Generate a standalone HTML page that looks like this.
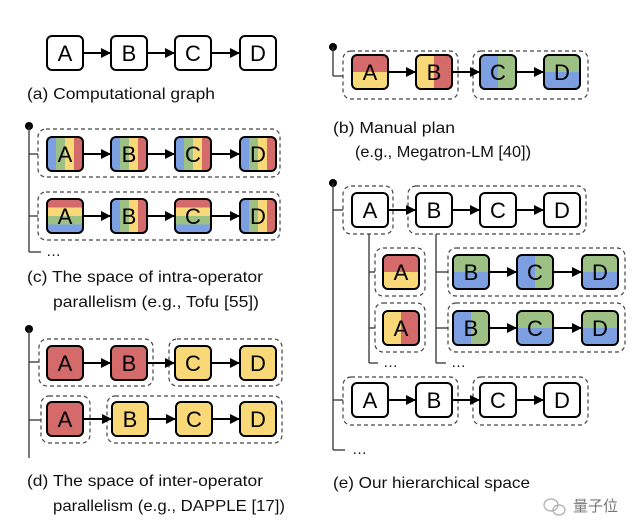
<!DOCTYPE html>
<html><head><meta charset="utf-8"><style>
html,body{margin:0;padding:0;background:#fff;}
svg{display:block;}
text{font-family:"Liberation Sans","Noto Sans CJK SC",sans-serif;}
</style></head><body>
<svg id="s" width="638" height="532" viewBox="0 0 638 532" xmlns="http://www.w3.org/2000/svg">
<defs><marker id="ar" markerWidth="10" markerHeight="10" refX="9" refY="5" orient="auto" markerUnits="userSpaceOnUse"><path d="M0,0 L10,5 L0,10 z" fill="#000"/></marker></defs>
<g id="g"></g>
<g font-size="16" fill="#111">
<text x="27" y="99" textLength="188" lengthAdjust="spacingAndGlyphs">(a) Computational graph</text>
<text x="333" y="133" textLength="122" lengthAdjust="spacingAndGlyphs">(b) Manual plan</text>
<text x="355" y="157" textLength="176" lengthAdjust="spacingAndGlyphs">(e.g., Megatron-LM [40])</text>
<text x="27" y="282" textLength="236" lengthAdjust="spacingAndGlyphs">(c) The space of intra-operator</text>
<text x="53" y="307" textLength="206" lengthAdjust="spacingAndGlyphs">parallelism (e.g., Tofu [55])</text>
<text x="27" y="486" textLength="236" lengthAdjust="spacingAndGlyphs">(d) The space of inter-operator</text>
<text x="53" y="511" textLength="232" lengthAdjust="spacingAndGlyphs">parallelism (e.g., DAPPLE [17])</text>
<text x="333" y="488" textLength="197" lengthAdjust="spacingAndGlyphs">(e) Our hierarchical space</text>
<text x="46" y="256" font-size="15">…</text>
<text x="383" y="367" font-size="15">…</text>
<text x="451" y="367" font-size="15">…</text>
<text x="352" y="454" font-size="15">…</text>
<text x="573" y="511" font-size="15" fill="#777">量子位</text>
</g>
<g fill="none" stroke="#aaa" stroke-width="1.2"><ellipse cx="551" cy="505" rx="7" ry="6"/><ellipse cx="559" cy="510" rx="6" ry="5"/></g>
</svg>
<script>
var R='#d46a6a',Y='#f9d878',G='#9dc184',B='#7b9fe0',W='#fff';
var g=document.getElementById('g'),out='',n=0;
function line(x1,y1,x2,y2,w){out+='<line x1="'+x1+'" y1="'+y1+'" x2="'+x2+'" y2="'+y2+'" stroke="#333" stroke-width="'+(w||1.3)+'"/>';}
function arrow(x1,x2,y){out+='<line x1="'+x1+'" y1="'+y+'" x2="'+x2+'" y2="'+y+'" stroke="#000" stroke-width="2" marker-end="url(#ar)"/>';}
function dash(x1,y1,x2,y2){out+='<rect x="'+x1+'" y="'+y1+'" width="'+(x2-x1)+'" height="'+(y2-y1)+'" rx="8" fill="none" stroke="#444" stroke-width="1.2" stroke-dasharray="4,3"/>';}
function dot(x,y){out+='<circle cx="'+x+'" cy="'+y+'" r="4" fill="#000"/>';}
function box(x,y,lab,type,cols){var w=36,h=34;n++;
 out+='<clipPath id="c'+n+'"><rect x="'+x+'" y="'+y+'" width="'+w+'" height="'+h+'" rx="5"/></clipPath><g clip-path="url(#c'+n+')">';
 cols=cols||[W];var k=cols.length;
 for(var i=0;i<k;i++){ if(type=='h') out+='<rect x="'+x+'" y="'+(y+h*i/k)+'" width="'+w+'" height="'+(h/k+0.5)+'" fill="'+cols[i]+'"/>';
  else out+='<rect x="'+(x+w*i/k)+'" y="'+y+'" width="'+(w/k+0.5)+'" height="'+h+'" fill="'+cols[i]+'"/>';}
 out+='</g><rect x="'+x+'" y="'+y+'" width="'+w+'" height="'+h+'" rx="5" fill="none" stroke="#000" stroke-width="2"/>';
 out+='<text x="'+(x+w/2)+'" y="'+(y+h/2+8)+'" text-anchor="middle" font-size="22" fill="#000">'+lab+'</text>';}
function row(xs,y,specs){var L='ABCD';var off=4-xs.length;
 for(var i=0;i<xs.length-1;i++) arrow(xs[i]+36,xs[i+1]-1,y+17);
 for(var i=0;i<xs.length;i++) box(xs[i],y,L[i+off],specs[i][0],specs[i][1]);}
var X=[47,111,175,240];
row(X,36,[['v'],['v'],['v'],['v']]);
dot(333,47);line(333,47,333,76);line(333,76,343,76);
dash(343,51,458,99);dash(473,51,588,99);
row([352,416,480,544],55,[['h',[R,Y]],['v',[Y,R]],['v',[B,G]],['h',[G,B]]]);
dot(29,126);line(29,126,29,252);line(29,252,41,252);
line(29,154,38,154);line(29,216,38,216);
dash(38,129,280,177);dash(38,192,280,240);
var V=[B,G,Y,R],H=[R,Y,G,B];
row(X,137,[['v',V],['v',V],['v',V],['v',V]]);
row(X,199,[['h',H],['v',V],['h',H],['v',V]]);
dot(29,329);line(29,329,29,458);
line(29,362,39,362);line(29,420,41,420);
dash(39,339,153,386);dash(169,339,282,386);
dash(41,396,90,443);dash(107,396,282,443);
row(X,346,[['v',[R]],['v',[R]],['v',[Y]],['v',[Y]]]);
row([47,112,176,240],402,[['v',[R]],['v',[Y]],['v',[Y]],['v',[Y]]]);
dot(333,183);line(333,183,333,450);line(333,450,345,450);
line(333,210,343,210);line(333,400,343,400);
dash(343,186,393,234);dash(408,186,586,234);
row([352,416,480,544],193,[['v'],['v'],['v'],['v']]);
line(369,234,369,363);line(369,363,378,363);line(369,272,375,272);line(369,328,375,328);
line(436,234,436,363);line(436,363,446,363);line(436,272,448,272);line(436,328,448,328);
dash(375,248,425,296);dash(375,303,425,352);
box(383,255,'A','h',[R,Y]);box(383,311,'A','v',[Y,R]);
dash(448,248,625,296);dash(448,303,625,352);
row([453,517,582],255,[['h',[G,B]],['v',[B,G]],['h',[G,B]]]);
row([453,517,582],311,[['v',[B,G]],['h',[G,B]],['h',[G,B]]]);
dash(343,377,458,425);dash(473,377,588,425);
row([352,416,480,544],383,[['v'],['v'],['v'],['v']]);
g.innerHTML=out;
</script>
</body></html>
